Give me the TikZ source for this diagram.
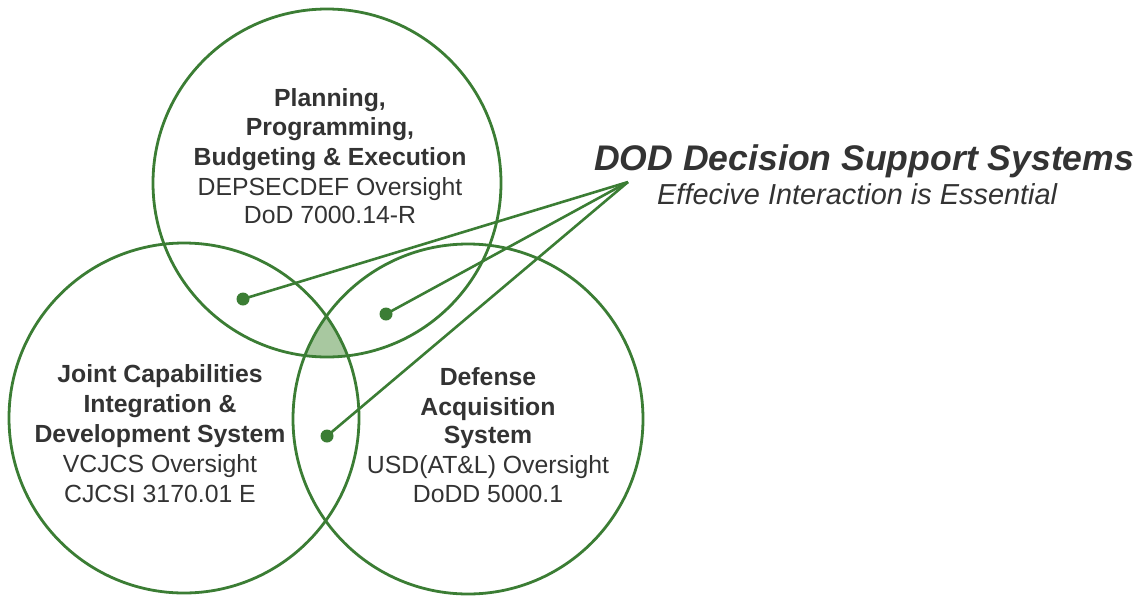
\documentclass[tikz,border=0pt]{standalone}
\usepackage{fontspec}
\setmainfont{Liberation Sans}
\definecolor{dgreen}{HTML}{3B7D34}
\definecolor{lgreen}{HTML}{A8C8A0}
\definecolor{txt}{HTML}{333333}
\tikzset{
  ring/.style={draw=dgreen, line width=2.8pt},
  link/.style={draw=dgreen, line width=2.6pt},
  dot/.style={circle, fill=dgreen, inner sep=0pt, minimum size=13pt},
  bl/.style={anchor=base, inner sep=0pt, text=txt, font=\fontsize{24.8}{29}\selectfont\bfseries},
  rl/.style={anchor=base, inner sep=0pt, text=txt, font=\fontsize{24.8}{29}\selectfont},
}
\begin{document}
\begin{tikzpicture}[x=1pt,y=-1pt]
\useasboundingbox (0,0) rectangle (1140,600);
% centres
\coordinate (ct) at (327,183);
\coordinate (cl) at (184,418);
\coordinate (cr) at (468,419);
% common area of the three circles
\begin{scope}
  \clip (ct) circle (174);
  \clip (cl) circle (175);
  \fill[lgreen] (cr) circle (175);
\end{scope}
\draw[ring] (ct) circle (174);
\draw[ring] (cl) circle (175);
\draw[ring] (cr) circle (175);
% connectors
\coordinate (focus) at (628,182);
\coordinate (p1) at (243,299);
\coordinate (p2) at (386,314);
\coordinate (p3) at (327,436);
\draw[link] (focus) -- (p1);
\draw[link] (focus) -- (p2);
\draw[link] (focus) -- (p3);
\node[dot] (d1) at (p1) {};
\node[dot] (d2) at (p2) {};
\node[dot] (d3) at (p3) {};
% top circle text
\node[bl] (t1) at (330,106) {Planning,};
\node[bl] (t2) at (330,135) {Programming,};
\node[bl] (t3) at (330,165) {Budgeting \& Execution};
\node[rl] (t4) at (330,195) {DEPSECDEF Oversight};
\node[rl] (t5) at (330,223) {DoD 7000.14-R};
% left circle text
\node[bl] (l1) at (160,382) {Joint Capabilities};
\node[bl] (l2) at (160,412) {Integration \&};
\node[bl] (l3) at (160,442) {Development System};
\node[rl] (l4) at (160,472) {VCJCS Oversight};
\node[rl] (l5) at (160,502) {CJCSI 3170.01 E};
% right circle text
\node[bl] (r1) at (488,385) {Defense};
\node[bl] (r2) at (488,415) {Acquisition};
\node[bl] (r3) at (488,443) {System};
\node[rl] (r4) at (488,473) {USD(AT\&L) Oversight};
\node[rl] (r5) at (488,502) {DoDD 5000.1};
% title
\node[anchor=base west, inner sep=0pt, text=txt, font=\fontsize{35.6}{40}\selectfont\bfseries\itshape] (title) at (594,170) {DOD Decision Support Systems};
\node[anchor=base west, inner sep=0pt, text=txt, font=\fontsize{28.9}{32}\selectfont\itshape] (sub) at (657,204) {Effecive Interaction is Essential};
\end{tikzpicture}
\end{document}
